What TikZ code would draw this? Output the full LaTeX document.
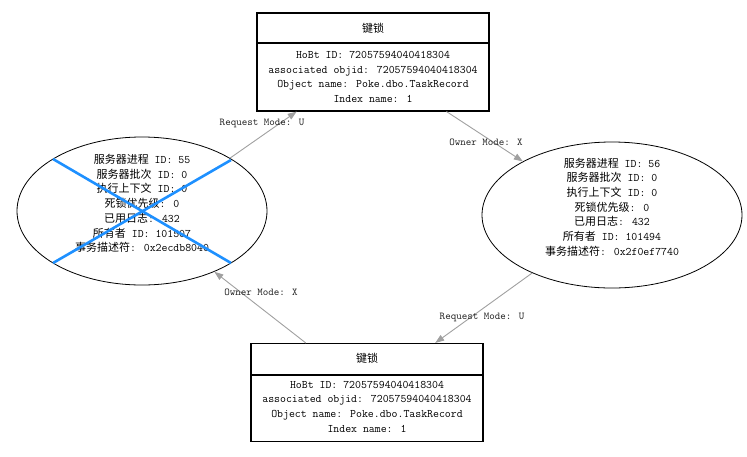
\documentclass[tikz,border=0pt]{standalone}
\usepackage{fontspec}
\newfontfamily\cjk{Noto Sans CJK SC}
\usetikzlibrary{shapes.geometric,arrows.meta,calc}
\definecolor{edgegray}{RGB}{160,160,160}
\definecolor{xblue}{RGB}{30,144,255}
\newcommand\zh[1]{{\cjk\fontsize{11}{14.7}\selectfont #1}}
\begin{document}
\begin{tikzpicture}[x=1pt,y=-1pt,
 lockbox/.style={draw, line width=1.1pt, minimum width=232pt, minimum height=98pt, inner sep=0pt},
 proc/.style={draw, ellipse, line width=0.8pt, inner sep=0pt},
 txt/.style={align=center, inner sep=0pt, font=\ttfamily\fontsize{11.5}{14.7}\selectfont},
 lbl/.style={inner sep=0pt, text=black!85, font=\ttfamily\fontsize{10.5}{12}\selectfont},
 link/.style={draw=edgegray, line width=0.9pt, -{Triangle[length=9pt,width=6.5pt,fill=edgegray]}},
 cross/.style={draw=xblue, line width=2.6pt}]
\useasboundingbox (0,0) rectangle (747,456);
% top key lock box
\node[lockbox] (T) at (373,62) {};
\node[txt] (Tt) at (373,28) {\zh{键锁}};
\coordinate (Td) at (373,43);
\draw[line width=1.1pt] (T.west |- Td) -- (T.east |- Td);
\node[txt] (Tb) at (373,77) {HoBt ID: 72057594040418304\\associated objid: 72057594040418304\\Object name: Poke.dbo.TaskRecord\\Index name: 1};
% bottom key lock box
\node[lockbox] (B) at (367,392.5) {};
\node[txt] (Bt) at (367,358) {\zh{键锁}};
\coordinate (Bd) at (367,375);
\draw[line width=1.1pt] (B.west |- Bd) -- (B.east |- Bd);
\node[txt] (Bb) at (367,406.5) {HoBt ID: 72057594040418304\\associated objid: 72057594040418304\\Object name: Poke.dbo.TaskRecord\\Index name: 1};
% left process
\node[proc, minimum width=250pt, minimum height=148pt] (L) at (142,211) {};
\node[txt] (Lt) at (142,203.5) {\zh{服务器进程} ID: 55\\\zh{服务器批次} ID: 0\\\zh{执行上下文} ID: 0\\\zh{死锁优先级}: 0\\\zh{已用日志}: 432\\\zh{所有者} ID: 101507\\\zh{事务描述符}: 0x2ecdb8040};
% right process
\node[proc, minimum width=260pt, minimum height=146pt] (R) at (612,215) {};
\node[txt] (Rt) at (612,207) {\zh{服务器进程} ID: 56\\\zh{服务器批次} ID: 0\\\zh{执行上下文} ID: 0\\\zh{死锁优先级}: 0\\\zh{已用日志}: 432\\\zh{所有者} ID: 101494\\\zh{事务描述符}: 0x2f0ef7740};
% connectors
\draw[link] (L.31.6) -- (T.213.9);
\draw[link] (T.326.8) -- (R.149.1);
\draw[link] (R.216.2) -- (B.36.1);
\draw[link] (B.141.05) -- (L.320.9);
% labels
\node[lbl] (l1) at (262,123) {Request Mode: U};
\node[lbl] (l2) at (486,142) {Owner Mode: X};
\node[lbl] (l3) at (482,317) {Request Mode: U};
\node[lbl] (l4) at (261,292) {Owner Mode: X};
% victim cross
\draw[cross] (53,159) -- (231,263);
\draw[cross] (53,263) -- (231,160);
\end{tikzpicture}
\end{document}
